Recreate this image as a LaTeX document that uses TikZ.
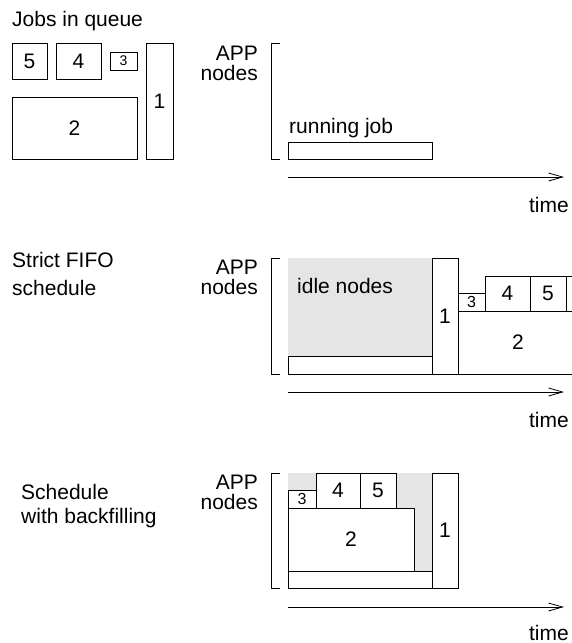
\documentclass[tikz,border=0pt]{standalone}
\usepackage{fontspec}
\setmainfont{Liberation Sans}
\usetikzlibrary{arrows.meta,positioning}
\tikzset{
  jobbox/.style={draw,line width=0.8pt,fill=white},
  idlearea/.style={fill=black!10},
  appbracket/.style={draw,line width=0.8pt},
  timeaxis/.style={-{Straight Barb[length=14pt,width=8pt]},line width=0.8pt},
  caption/.style={inner sep=0pt,align=left,font=\fontsize{21}{28}\selectfont},
  applabel/.style={inner sep=0pt,align=right,font=\fontsize{21}{20}\selectfont},
  joblabel/.style={inner sep=0pt,font=\fontsize{21}{24}\selectfont},
  smalljob/.style={inner sep=0pt,font=\fontsize{16}{18}\selectfont}
}

\begin{document}
\begin{tikzpicture}[x=1pt,y=-1pt]
  \clip (0,0) rectangle (572,643);
  % jobs waiting
  \node[caption,anchor=base west] (queue) at (12,26) {Jobs in queue};
  \draw[jobbox] (12,43) rectangle node[joblabel] (q5) {5} (47,79);
  \draw[jobbox] (56,43) rectangle node[joblabel] (q4) {4} (101,79);
  \draw[jobbox] (110,52) rectangle node[smalljob,font=\fontsize{14}{16}\selectfont] (q3) {3} (137,70);
  \draw[jobbox] (146,43) rectangle node[joblabel] (q1) {1} (173,159);
  \draw[jobbox] (12,97) rectangle node[joblabel] (q2) {2} (137,159);
  \node[applabel,anchor=north east] (app1) at (258,46) {APP\\nodes};
  \draw[appbracket] (280,43) -- (271,43) -- (271,159) -- (280,159);
  \draw[jobbox] (288,142) rectangle (432,159);
  \node[joblabel,anchor=base west] (running) at (289,133) {running job};
  \coordinate (t1start) at (288,177);
  \coordinate (t1end) at (564,177);
  \draw[timeaxis] (t1start) -- (t1end);
  \node[joblabel,anchor=base east] (time1) at (569,212) {time};

  % strict FIFO
  \node[caption,anchor=base west] (fifo) at (12,295) {Strict FIFO\\schedule};
  \node[applabel,anchor=north east] (app2) at (258,260) {APP\\nodes};
  \draw[appbracket] (280,258) -- (271,258) -- (271,374) -- (280,374);
  \fill[idlearea] (288,258) rectangle (432,356);
  \node[joblabel,anchor=base west] (idle) at (297,293) {idle nodes};
  \draw[jobbox] (288,356) rectangle (432,374);
  \draw[jobbox] (432,258) rectangle node[joblabel] (f1) {1} (458,374);
  \draw[jobbox] (458,311) rectangle node[joblabel,xshift=-11pt] (f2) {2} (600,374);
  \draw[jobbox] (458,293) rectangle node[smalljob] (f3) {3} (485,311);
  \draw[jobbox] (485,276) rectangle node[joblabel] (f4) {4} (530,311);
  \draw[jobbox] (530,276) rectangle node[joblabel] (f5) {5} (566,311);
  \draw[jobbox] (566,276) rectangle (600,311);
  \coordinate (t2start) at (288,392);
  \coordinate (t2end) at (564,392);
  \draw[timeaxis] (t2start) -- (t2end);
  \node[joblabel,anchor=base east] (time2) at (569,427) {time};

  % backfilling
  \node[caption,anchor=base west,font=\fontsize{21}{24}\selectfont] (backfill) at (21,523) {Schedule\\with backfilling};
  \node[applabel,anchor=north east] (app3) at (258,475) {APP\\nodes};
  \draw[appbracket] (280,473) -- (271,473) -- (271,588) -- (280,588);
  \fill[idlearea] (288,473) rectangle (432,571);
  \draw[jobbox] (288,571) rectangle (432,588);
  \draw[jobbox] (432,473) rectangle node[joblabel] (b1) {1} (458,588);
  \draw[jobbox] (288,508) rectangle node[joblabel] (b2) {2} (414,571);
  \draw[jobbox] (288,490) rectangle node[smalljob] (b3) {3} (316,508);
  \draw[jobbox] (316,473) rectangle node[joblabel] (b4) {4} (360,508);
  \draw[jobbox] (360,473) rectangle node[joblabel] (b5) {5} (396,508);
  \coordinate (t3start) at (288,607);
  \coordinate (t3end) at (564,607);
  \draw[timeaxis] (t3start) -- (t3end);
  \node[joblabel,anchor=base east] (time3) at (569,640) {time};
\end{tikzpicture}
\end{document}
